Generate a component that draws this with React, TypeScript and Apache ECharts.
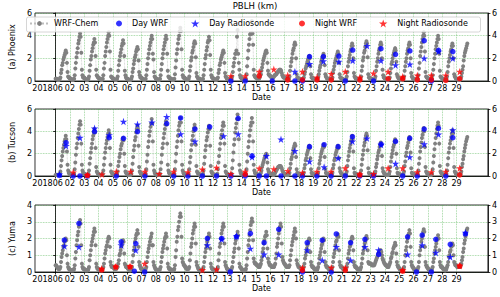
import React, { useEffect, useRef } from 'react';
import * as echarts from 'echarts';

const FONT = 'DejaVu Sans';

// tick labels (one per day, June 1 .. June 29)
const dayLabels = ['201806', '02', '03', '04', '05', '06', '07', '08', '09', '10', '11', '12', '13', '14', '15', '16', '17', '18', '19', '20', '21', '22', '23', '24', '25', '26', '27', '28', '29'];
const tickDays = [0, 1, 2, 3, 4, 5, 6, 7, 8, 9, 10, 11, 12, 13, 14, 15, 16, 17, 18, 19, 20, 21, 22, 23, 24, 25, 26, 27, 28];

const siteNames = ['(a) Phoenix', '(b) Tucson', '(c) Yuma'];
const yMax = [6, 6, 4];
const yStep = [2, 2, 1];

// WRF-Chem hourly PBLH (km), one row per day, hours 0..23
const phoenixWRF: number[][] = [
  [0.2, 0.2, 0.2, 0.1, 0.1, 0.1, 0.1, 0.2, 0.3, 0.7, 1.0, 1.4, 1.6, 1.9, 2.1, 2.3, 2.5, 2.7, 2.5, 1.6, 0.8, 0.4, 0.3, 0.3],
  [0.2, 0.2, 0.2, 0.1, 0.1, 0.1, 0.1, 0.2, 0.5, 1.1, 1.6, 2.1, 2.5, 2.9, 3.3, 3.6, 3.9, 4.2, 3.9, 2.5, 1.0, 0.5, 0.3, 0.3],
  [0.3, 0.2, 0.2, 0.1, 0.1, 0.1, 0.1, 0.2, 0.4, 0.9, 1.4, 1.9, 2.2, 2.6, 2.9, 3.2, 3.4, 3.7, 3.4, 2.2, 1.0, 0.5, 0.4, 0.3],
  [0.3, 0.2, 0.2, 0.2, 0.1, 0.1, 0.1, 0.2, 0.5, 1.1, 1.6, 2.2, 2.6, 3.0, 3.4, 3.7, 4.0, 4.3, 4.0, 2.6, 1.0, 0.4, 0.3, 0.3],
  [0.2, 0.2, 0.2, 0.1, 0.1, 0.1, 0.1, 0.2, 0.4, 0.9, 1.4, 1.8, 2.2, 2.5, 2.8, 3.1, 3.3, 3.6, 3.3, 2.2, 0.9, 0.5, 0.3, 0.2],
  [0.2, 0.2, 0.1, 0.1, 0.1, 0.1, 0.1, 0.2, 0.4, 0.8, 1.1, 1.5, 1.8, 2.1, 2.3, 2.6, 2.8, 3.0, 2.8, 1.8, 0.8, 0.5, 0.3, 0.3],
  [0.3, 0.2, 0.2, 0.1, 0.1, 0.1, 0.1, 0.2, 0.5, 1.0, 1.5, 2.0, 2.4, 2.8, 3.1, 3.4, 3.7, 4.0, 3.7, 2.4, 1.9, 0.8, 0.4, 0.3],
  [0.2, 0.2, 0.2, 0.1, 0.1, 0.1, 0.1, 0.2, 0.5, 1.0, 1.5, 2.0, 2.4, 2.8, 3.1, 3.4, 3.7, 4.0, 3.7, 2.4, 0.9, 0.4, 0.3, 0.3],
  [0.2, 0.2, 0.2, 0.1, 0.1, 0.1, 0.1, 0.2, 0.6, 1.2, 1.8, 2.4, 2.8, 3.3, 3.7, 4.0, 4.4, 4.7, 4.4, 2.8, 1.0, 0.5, 0.3, 0.3],
  [0.3, 0.2, 0.2, 0.1, 0.1, 0.1, 0.1, 0.2, 0.4, 0.9, 1.3, 1.8, 2.1, 2.5, 2.7, 3.0, 3.3, 3.5, 3.3, 2.1, 0.7, 0.4, 0.3, 0.2],
  [0.2, 0.2, 0.2, 0.1, 0.1, 0.1, 0.1, 0.2, 0.5, 1.0, 1.5, 2.0, 2.3, 2.7, 3.0, 3.4, 3.6, 3.9, 3.6, 2.3, 1.0, 0.5, 0.3, 0.3],
  [0.2, 0.2, 0.2, 0.1, 0.1, 0.1, 0.1, 0.2, 0.3, 0.7, 1.0, 1.4, 1.6, 1.9, 2.1, 2.3, 2.5, 2.7, 2.5, 1.6, 0.7, 0.4, 0.3, 0.2],
  [0.2, 0.2, 0.1, 0.1, 0.1, 0.1, 0.1, 0.2, 0.4, 0.8, 1.3, 1.6, 2.0, 2.4, 2.4, 2.7, 3.9, 4.5, 2.4, 1.6, 1.0, 0.5, 0.3, 0.3],
  [0.2, 0.2, 0.1, 0.1, 0.1, 0.1, 0.1, 0.2, 0.6, 1.3, 2.0, 2.7, 3.2, 3.7, 4.1, 4.2, 4.2, 5.3, 4.2, 3.2, 1.0, 0.5, 0.4, 0.3],
  [0.3, 0.3, 0.2, 0.2, 0.2, 0.2, 0.3, 0.5, 0.6, 0.9, 1.2, 1.5, 1.8, 2.0, 2.2, 2.4, 2.6, 2.7, 2.5, 1.6, 0.9, 0.6, 0.5, 0.5],
  [0.4, 0.4, 0.3, 0.3, 0.3, 0.3, 0.4, 0.5, 0.5, 0.6, 0.6, 0.7, 0.8, 0.8, 0.9, 1.0, 1.0, 1.0, 0.9, 0.7, 0.5, 0.4, 0.3, 0.3],
  [0.3, 0.2, 0.2, 0.2, 0.1, 0.1, 0.1, 0.2, 0.4, 0.9, 1.3, 1.7, 2.0, 2.4, 2.7, 2.9, 3.2, 3.4, 3.2, 2.0, 0.6, 0.3, 0.3, 0.2],
  [0.2, 0.2, 0.2, 0.1, 0.1, 0.1, 0.1, 0.2, 0.3, 0.6, 0.8, 1.1, 1.3, 1.5, 1.7, 1.9, 2.0, 2.2, 2.0, 1.3, 0.6, 0.3, 0.3, 0.2],
  [0.2, 0.2, 0.1, 0.1, 0.1, 0.1, 0.1, 0.2, 0.3, 0.6, 0.9, 1.2, 1.4, 1.7, 1.9, 2.1, 2.2, 2.4, 2.2, 1.4, 0.6, 0.4, 0.3, 0.2],
  [0.2, 0.2, 0.2, 0.1, 0.1, 0.1, 0.1, 0.2, 0.3, 0.7, 1.0, 1.3, 1.6, 1.8, 2.0, 2.2, 2.4, 2.6, 2.4, 1.6, 0.6, 0.3, 0.3, 0.2],
  [0.2, 0.2, 0.1, 0.1, 0.1, 0.1, 0.1, 0.2, 0.4, 0.8, 1.3, 1.7, 2.0, 2.3, 2.6, 2.8, 3.1, 3.3, 3.1, 2.0, 0.7, 0.4, 0.3, 0.2],
  [0.2, 0.2, 0.1, 0.1, 0.1, 0.1, 0.1, 0.2, 0.4, 0.9, 1.3, 1.8, 2.1, 2.5, 2.7, 3.0, 3.3, 3.5, 3.3, 2.1, 0.6, 0.3, 0.3, 0.2],
  [0.2, 0.2, 0.2, 0.1, 0.1, 0.1, 0.1, 0.2, 0.4, 0.9, 1.3, 1.7, 2.0, 2.4, 2.7, 2.9, 3.2, 3.4, 3.2, 2.0, 1.0, 0.5, 0.3, 0.3],
  [0.2, 0.2, 0.2, 0.1, 0.1, 0.1, 0.1, 0.2, 0.3, 0.7, 1.1, 1.5, 1.7, 2.0, 2.3, 2.5, 2.7, 2.9, 2.7, 1.7, 0.6, 0.4, 0.3, 0.2],
  [0.2, 0.2, 0.1, 0.1, 0.1, 0.1, 0.1, 0.2, 0.4, 0.9, 1.3, 1.7, 2.0, 2.4, 2.7, 2.9, 3.2, 3.4, 3.2, 2.0, 0.7, 0.4, 0.3, 0.2],
  [0.2, 0.2, 0.1, 0.1, 0.1, 0.1, 0.1, 0.2, 0.5, 1.1, 1.6, 2.2, 2.6, 3.0, 3.4, 3.7, 4.0, 4.3, 4.0, 2.6, 0.8, 0.4, 0.3, 0.3],
  [0.2, 0.2, 0.2, 0.1, 0.1, 0.1, 0.1, 0.2, 0.5, 1.0, 1.5, 2.0, 2.4, 2.8, 3.1, 3.4, 3.7, 4.0, 3.7, 2.4, 0.9, 0.4, 0.3, 0.3],
  [0.2, 0.2, 0.1, 0.1, 0.1, 0.1, 0.1, 0.2, 0.4, 0.8, 1.3, 1.7, 2.0, 2.3, 2.6, 2.8, 3.1, 3.3, 3.1, 2.0, 0.6, 0.4, 0.3, 0.2],
  [0.2, 0.2, 0.1, 0.1, 0.1, 0.1, 0.1, 0.2, 0.4, 0.7, 1.0, 1.3, 1.8, 2.2, 2.5, 2.7, 2.9, 3.1, 3.3],
];

const tucsonWRF: number[][] = [
  [0.1, 0.1, 0.1, 0.1, 0.1, 0.1, 0.1, 0.2, 0.4, 0.9, 1.4, 1.8, 2.2, 2.5, 2.8, 3.1, 3.3, 3.6, 3.3, 2.2, 1.0, 0.5, 0.3, 0.2],
  [0.2, 0.1, 0.1, 0.1, 0.1, 0.1, 0.1, 0.2, 0.6, 1.2, 1.9, 2.5, 2.9, 3.4, 3.8, 4.2, 4.6, 4.9, 4.6, 2.9, 1.0, 0.5, 0.3, 0.2],
  [0.2, 0.2, 0.1, 0.1, 0.1, 0.1, 0.1, 0.2, 0.5, 1.1, 1.6, 2.1, 2.5, 2.9, 3.3, 3.6, 3.9, 4.2, 3.9, 2.5, 0.8, 0.4, 0.3, 0.2],
  [0.2, 0.1, 0.1, 0.1, 0.1, 0.1, 0.1, 0.2, 0.5, 1.0, 1.6, 2.1, 2.5, 2.9, 3.2, 3.5, 3.8, 4.1, 3.8, 2.5, 1.0, 0.4, 0.3, 0.2],
  [0.2, 0.1, 0.1, 0.1, 0.1, 0.1, 0.1, 0.2, 0.4, 0.9, 1.3, 1.7, 2.0, 2.4, 2.7, 2.9, 3.2, 3.4, 3.2, 2.0, 0.9, 0.4, 0.3, 0.2],
  [0.2, 0.1, 0.1, 0.1, 0.1, 0.1, 0.1, 0.2, 0.5, 1.1, 1.7, 2.3, 2.7, 3.2, 3.5, 3.9, 4.2, 4.5, 4.2, 2.7, 0.8, 0.4, 0.3, 0.2],
  [0.2, 0.1, 0.1, 0.1, 0.1, 0.1, 0.1, 0.2, 0.6, 1.3, 1.9, 2.6, 3.1, 3.6, 4.0, 4.4, 4.7, 5.1, 4.7, 3.1, 1.0, 0.5, 0.3, 0.2],
  [0.2, 0.1, 0.1, 0.1, 0.1, 0.1, 0.1, 0.2, 0.6, 1.2, 1.9, 2.5, 2.9, 3.4, 3.8, 4.2, 4.6, 4.9, 4.6, 2.9, 1.0, 0.5, 0.3, 0.2],
  [0.2, 0.1, 0.1, 0.1, 0.1, 0.1, 0.1, 0.2, 0.6, 1.3, 2.0, 2.6, 3.1, 3.6, 4.1, 4.5, 4.8, 5.2, 4.8, 3.1, 1.0, 0.5, 0.3, 0.2],
  [0.2, 0.1, 0.1, 0.1, 0.1, 0.1, 0.1, 0.2, 0.6, 1.2, 1.7, 2.3, 2.8, 3.2, 3.6, 4.0, 4.3, 4.6, 4.3, 2.8, 0.9, 0.4, 0.3, 0.2],
  [0.2, 0.1, 0.1, 0.1, 0.1, 0.1, 0.1, 0.2, 0.5, 1.1, 1.7, 2.3, 2.7, 3.2, 3.5, 3.9, 4.2, 4.5, 4.2, 2.7, 0.9, 0.4, 0.3, 0.2],
  [0.2, 0.1, 0.1, 0.1, 0.1, 0.1, 0.1, 0.2, 0.6, 1.2, 1.8, 2.4, 2.9, 3.4, 3.7, 4.1, 4.5, 4.8, 4.5, 2.9, 0.9, 0.4, 0.3, 0.2],
  [0.2, 0.1, 0.1, 0.1, 0.1, 0.1, 0.1, 0.2, 0.7, 1.4, 2.1, 2.8, 3.3, 3.9, 4.3, 4.7, 5.1, 5.5, 5.1, 3.3, 1.0, 0.5, 0.3, 0.2],
  [0.2, 0.1, 0.1, 0.1, 0.1, 0.1, 0.1, 0.2, 0.6, 1.3, 2.0, 2.6, 3.1, 3.6, 4.1, 4.5, 4.8, 5.2, 4.8, 3.1, 1.0, 0.5, 0.3, 0.2],
  [0.2, 0.2, 0.1, 0.1, 0.1, 0.1, 0.1, 0.2, 0.3, 0.5, 0.8, 1.0, 1.2, 1.4, 1.6, 1.7, 1.9, 2.0, 1.9, 1.2, 0.6, 0.4, 0.3, 0.2],
  [0.2, 0.2, 0.2, 0.2, 0.1, 0.1, 0.1, 0.2, 0.3, 0.4, 0.5, 0.6, 0.7, 0.8, 0.8, 0.9, 0.9, 0.9, 0.8, 0.7, 0.5, 0.4, 0.3, 0.2],
  [0.2, 0.1, 0.1, 0.1, 0.1, 0.1, 0.1, 0.2, 0.3, 0.7, 1.1, 1.5, 1.7, 2.0, 2.3, 2.5, 2.7, 2.9, 2.7, 1.7, 0.6, 0.3, 0.2, 0.2],
  [0.2, 0.1, 0.1, 0.1, 0.1, 0.1, 0.1, 0.2, 0.3, 0.7, 1.0, 1.4, 1.6, 1.9, 2.1, 2.3, 2.5, 2.7, 2.5, 1.6, 0.6, 0.3, 0.2, 0.2],
  [0.2, 0.1, 0.1, 0.1, 0.1, 0.1, 0.1, 0.2, 0.3, 0.7, 1.1, 1.4, 1.7, 2.0, 2.2, 2.4, 2.6, 2.8, 2.6, 1.7, 0.6, 0.3, 0.2, 0.2],
  [0.2, 0.1, 0.1, 0.1, 0.1, 0.1, 0.1, 0.2, 0.3, 0.7, 1.0, 1.4, 1.6, 1.9, 2.1, 2.3, 2.5, 2.7, 2.5, 1.6, 0.7, 0.4, 0.3, 0.2],
  [0.2, 0.1, 0.1, 0.1, 0.1, 0.1, 0.1, 0.2, 0.4, 0.9, 1.4, 1.8, 2.2, 2.5, 2.8, 3.1, 3.3, 3.6, 3.3, 2.2, 0.7, 0.3, 0.2, 0.2],
  [0.2, 0.1, 0.1, 0.1, 0.1, 0.1, 0.1, 0.2, 0.5, 1.0, 1.5, 1.9, 2.3, 2.7, 3.0, 3.3, 3.6, 3.8, 3.6, 2.3, 0.7, 0.3, 0.2, 0.2],
  [0.2, 0.1, 0.1, 0.1, 0.1, 0.1, 0.1, 0.2, 0.4, 0.8, 1.1, 1.5, 1.8, 2.1, 2.3, 2.6, 2.8, 3.0, 2.8, 1.8, 0.7, 0.4, 0.3, 0.2],
  [0.2, 0.1, 0.1, 0.1, 0.1, 0.1, 0.1, 0.2, 0.4, 0.8, 1.3, 1.7, 2.0, 2.3, 2.6, 2.8, 3.1, 3.3, 3.1, 2.0, 0.7, 0.3, 0.2, 0.2],
  [0.2, 0.1, 0.1, 0.1, 0.1, 0.1, 0.1, 0.2, 0.4, 0.9, 1.3, 1.8, 2.1, 2.5, 2.7, 3.0, 3.3, 3.5, 3.3, 2.1, 0.7, 0.3, 0.2, 0.2],
  [0.2, 0.1, 0.1, 0.1, 0.1, 0.1, 0.1, 0.2, 0.5, 1.1, 1.6, 2.2, 2.6, 3.0, 3.4, 3.7, 4.0, 4.3, 4.0, 2.6, 0.8, 0.4, 0.3, 0.2],
  [0.2, 0.1, 0.1, 0.1, 0.1, 0.1, 0.1, 0.2, 0.6, 1.2, 1.8, 2.4, 2.9, 3.4, 3.8, 4.2, 4.5, 4.8, 4.5, 2.9, 0.9, 0.4, 0.3, 0.2],
  [0.2, 0.1, 0.1, 0.1, 0.1, 0.1, 0.1, 0.2, 0.5, 1.0, 1.6, 2.1, 2.5, 2.9, 3.2, 3.5, 3.8, 4.1, 3.8, 2.5, 0.8, 0.4, 0.3, 0.2],
  [0.2, 0.1, 0.1, 0.1, 0.1, 0.1, 0.1, 0.2, 0.4, 0.8, 1.1, 1.5, 1.8, 2.2, 2.5, 2.8, 3.1, 3.3, 3.5],
];

const yumaWRF: number[][] = [
  [0.4, 0.4, 0.3, 0.3, 0.2, 0.2, 0.2, 0.2, 0.3, 0.6, 0.9, 1.1, 1.3, 1.5, 1.6, 1.8, 1.9, 2.0, 1.9, 1.0, 0.5, 0.3, 0.2, 0.2],
  [0.1, 0.1, 0.1, 0.1, 0.1, 0.1, 0.1, 0.2, 0.4, 0.8, 1.2, 1.6, 1.9, 2.2, 2.4, 2.7, 2.9, 3.1, 2.9, 1.6, 0.5, 0.3, 0.2, 0.2],
  [0.2, 0.1, 0.1, 0.1, 0.1, 0.1, 0.1, 0.2, 0.3, 0.7, 1.0, 1.3, 1.6, 1.8, 2.0, 2.2, 2.4, 2.6, 2.4, 1.6, 0.5, 0.3, 0.2, 0.2],
  [0.2, 0.1, 0.1, 0.1, 0.1, 0.1, 0.1, 0.2, 0.3, 0.5, 0.8, 1.1, 1.3, 1.5, 1.6, 1.8, 2.0, 2.1, 2.0, 1.5, 0.6, 0.4, 0.3, 0.3],
  [0.3, 0.3, 0.2, 0.2, 0.2, 0.2, 0.2, 0.3, 0.3, 0.5, 0.7, 1.0, 1.1, 1.3, 1.5, 1.6, 1.8, 1.9, 1.8, 1.1, 0.5, 0.4, 0.3, 0.3],
  [0.3, 0.2, 0.2, 0.2, 0.1, 0.1, 0.1, 0.2, 0.3, 0.6, 1.0, 1.3, 1.5, 1.8, 2.0, 2.2, 2.3, 2.5, 2.3, 1.5, 0.6, 0.4, 0.3, 0.2],
  [0.2, 0.2, 0.1, 0.1, 0.1, 0.1, 0.1, 0.2, 0.3, 0.6, 0.9, 1.2, 1.4, 1.6, 1.8, 2.0, 2.1, 2.3, 1.6, 1.6, 0.6, 0.4, 0.3, 0.2],
  [0.2, 0.1, 0.1, 0.1, 0.1, 0.1, 0.1, 0.2, 0.3, 0.6, 0.9, 1.2, 1.4, 1.6, 1.8, 2.0, 2.1, 2.3, 2.1, 1.4, 0.5, 0.3, 0.2, 0.2],
  [0.2, 0.1, 0.1, 0.1, 0.1, 0.1, 0.1, 0.2, 0.4, 0.9, 1.3, 1.8, 2.1, 2.5, 2.7, 3.0, 3.3, 3.5, 3.3, 2.1, 0.8, 0.6, 0.5, 0.4],
  [0.4, 0.3, 0.3, 0.2, 0.2, 0.2, 0.2, 0.2, 0.3, 0.7, 1.1, 1.5, 1.7, 2.0, 2.3, 2.5, 2.7, 2.9, 2.7, 1.7, 0.6, 0.4, 0.3, 0.2],
  [0.2, 0.1, 0.1, 0.1, 0.1, 0.1, 0.1, 0.2, 0.3, 0.6, 0.9, 1.2, 1.4, 1.6, 1.8, 2.0, 2.1, 2.3, 2.1, 1.4, 0.5, 0.3, 0.2, 0.2],
  [0.2, 0.1, 0.1, 0.1, 0.1, 0.1, 0.1, 0.2, 0.3, 0.7, 1.1, 1.5, 1.7, 2.0, 2.3, 2.5, 2.7, 2.9, 2.7, 1.7, 0.6, 0.4, 0.3, 0.2],
  [0.2, 0.1, 0.1, 0.1, 0.1, 0.1, 0.1, 0.2, 0.3, 0.6, 0.9, 1.2, 1.4, 1.7, 1.9, 2.1, 2.2, 2.4, 2.2, 1.4, 0.5, 0.3, 0.3, 0.2],
  [0.2, 0.1, 0.1, 0.1, 0.1, 0.1, 0.1, 0.2, 0.4, 0.8, 1.2, 1.6, 1.9, 2.2, 2.5, 2.8, 3.0, 3.2, 3.0, 1.9, 0.8, 0.6, 0.5, 0.5],
  [0.5, 0.4, 0.4, 0.4, 0.3, 0.3, 0.3, 0.4, 0.5, 0.7, 0.9, 1.2, 1.4, 1.7, 1.9, 2.1, 2.2, 2.4, 2.2, 1.4, 0.8, 0.6, 0.5, 0.4],
  [0.4, 0.4, 0.3, 0.3, 0.3, 0.3, 0.3, 0.4, 0.5, 0.8, 1.1, 1.5, 1.7, 2.0, 2.3, 2.5, 2.7, 2.9, 2.7, 1.7, 0.9, 0.7, 0.6, 0.5],
  [0.5, 0.4, 0.4, 0.3, 0.3, 0.3, 0.3, 0.3, 0.4, 0.7, 1.0, 1.3, 1.6, 1.8, 2.0, 2.2, 2.4, 2.6, 2.4, 2.0, 0.7, 0.5, 0.4, 0.3],
  [0.3, 0.3, 0.2, 0.2, 0.2, 0.2, 0.2, 0.2, 0.3, 0.5, 0.8, 1.0, 1.2, 1.4, 1.6, 1.7, 1.9, 2.0, 1.9, 1.2, 0.6, 0.4, 0.3, 0.3],
  [0.3, 0.2, 0.2, 0.2, 0.1, 0.1, 0.1, 0.2, 0.3, 0.5, 0.8, 1.0, 1.2, 1.4, 1.6, 1.7, 1.9, 2.0, 1.9, 1.2, 0.6, 0.4, 0.3, 0.3],
  [0.3, 0.2, 0.2, 0.2, 0.1, 0.1, 0.1, 0.2, 0.3, 0.6, 0.9, 1.1, 1.3, 1.6, 1.8, 1.9, 2.1, 2.25, 2.1, 1.3, 0.6, 0.4, 0.3, 0.3],
  [0.3, 0.2, 0.2, 0.2, 0.1, 0.1, 0.1, 0.2, 0.3, 0.5, 0.8, 1.1, 1.3, 1.5, 1.6, 1.8, 2.0, 2.1, 2.0, 1.3, 0.6, 0.4, 0.3, 0.3],
  [0.3, 0.2, 0.2, 0.2, 0.1, 0.1, 0.1, 0.2, 0.3, 0.5, 0.8, 1.1, 1.3, 1.5, 1.7, 1.8, 2.0, 2.15, 2.0, 1.3, 0.6, 0.5, 0.5, 0.5],
  [0.5, 0.5, 0.4, 0.4, 0.4, 0.4, 0.4, 0.5, 0.6, 0.7, 0.8, 0.9, 1.0, 1.1, 1.2, 1.2, 1.3, 1.3, 1.2, 1.0, 0.8, 0.7, 0.6, 0.5],
  [0.5, 0.4, 0.4, 0.4, 0.3, 0.3, 0.3, 0.4, 0.5, 0.6, 0.8, 0.9, 1.1, 1.2, 1.4, 1.5, 1.6, 1.75, 1.6, 1.1, 0.6, 0.4, 0.3, 0.3],
  [0.2, 0.2, 0.1, 0.1, 0.1, 0.1, 0.1, 0.2, 0.3, 0.6, 1.0, 1.3, 1.5, 1.8, 2.0, 2.2, 2.3, 2.5, 2.3, 1.5, 0.6, 0.4, 0.3, 0.3],
  [0.2, 0.2, 0.1, 0.1, 0.1, 0.1, 0.1, 0.2, 0.3, 0.6, 1.0, 1.3, 1.5, 1.8, 2.0, 2.2, 2.4, 2.55, 2.4, 1.5, 0.6, 0.4, 0.3, 0.3],
  [0.2, 0.2, 0.1, 0.1, 0.1, 0.1, 0.1, 0.2, 0.3, 0.6, 0.8, 1.1, 1.3, 1.5, 1.7, 1.9, 2.0, 2.2, 2.0, 1.3, 0.6, 0.4, 0.3, 0.3],
  [0.3, 0.2, 0.2, 0.2, 0.1, 0.1, 0.1, 0.2, 0.3, 0.4, 0.6, 0.9, 1.0, 1.2, 1.3, 1.5, 1.6, 1.7, 1.6, 1.0, 0.6, 0.5, 0.4, 0.4],
  [0.4, 0.3, 0.3, 0.3, 0.3, 0.3, 0.3, 0.4, 0.5, 0.7, 0.9, 1.2, 1.4, 1.7, 1.9, 2.1, 2.3, 2.5, 2.6],
];

// observation markers: [day offset from 2018-06-01 00:00, PBLH km]
const phoenixDayWRF = [[12.24, 0], [13.24, 0], [15.13, 0], [16.71, 0], [17.24, 0], [17.73, 2.15], [18.7, 2.15], [19.78, 2.2], [20.23, 0], [20.75, 2.73], [22.2, 0], [22.72, 2.85], [23.74, 2.35], [24.74, 2.65], [25.74, 3.56], [26.24, 0], [26.74, 2.7], [27.74, 2.6]];
const phoenixDayRS = [[16.71, 0.82], [17.73, 1.5], [18.7, 1.75], [19.78, 1.7], [20.75, 1.8], [21.75, 3.1], [22.72, 1.8], [23.74, 1.4], [24.74, 1.47], [25.74, 2.0], [26.74, 2.6], [27.74, 2.0]];
const phoenixNightWRF = [[14.22, 0.44], [16.21, 0.1], [17.24, 0.1], [18.26, 0.1], [19.25, 0.1], [21.25, 0.1], [23.22, 0.2], [24.24, 0.2], [25.26, 0.1], [26.24, 0.1], [27.25, 0.05], [28.22, 0.2]];
const phoenixNightRS = [[12.24, 0.44], [13.24, 0.44], [14.22, 0.82], [15.24, 1.03], [16.21, 0.5], [17.24, 0.82], [18.26, 0.33], [19.25, 0.62], [20.23, 0.82], [21.25, 0.33], [22.2, 0.68], [23.22, 0.82], [24.24, 0.38], [25.26, 0.5], [26.24, 0.5], [27.25, 0.5], [28.22, 0.82]];

const tucsonDayWRF = [[0.27, 0.05], [0.73, 2.98], [1.23, 0], [1.7, 0], [2.22, 0], [2.72, 3.98], [3.74, 3.43], [4.24, 0], [4.74, 3.37], [5.72, 3.98], [6.24, 0], [7.76, 4.7], [8.25, 0], [8.73, 5.2], [9.24, 0], [9.73, 4.2], [10.25, 0], [10.76, 4.4], [11.24, 0], [12.24, 0], [12.75, 5.16], [13.24, 0], [13.72, 1.8], [14.22, 0], [14.72, 0], [15.74, 0], [16.71, 0], [17.24, 0], [17.73, 2.63], [18.25, 0], [18.75, 2.8], [19.24, 0], [19.73, 2.63], [20.23, 0], [20.73, 3.52], [21.24, 0], [22.2, 0], [22.73, 2.85], [23.74, 3.1], [24.24, 0], [24.73, 3.37], [25.26, 0], [25.74, 4.2], [26.74, 4.27], [27.25, 0], [27.74, 3.43]];
const tucsonDayRS = [[0.27, 0.15], [0.73, 2.7], [1.7, 3.43], [2.72, 4.27], [3.74, 3.67], [4.74, 4.87], [5.72, 4.63], [6.73, 4.8], [7.76, 5.3], [8.73, 3.75], [9.73, 3.1], [11.73, 3.58], [12.75, 3.75], [13.72, 1.7], [14.72, 1.8], [15.74, 3.28], [16.71, 2.24], [17.73, 1.3], [18.75, 0.8], [19.73, 1.6], [20.73, 3.1], [21.74, 3.37], [22.73, 2.8], [23.74, 1.1], [24.73, 1.7], [25.74, 2.85], [26.74, 3.73], [27.74, 4.1]];
const tucsonNightWRF = [[2.22, 0.05], [13.24, 0.15], [21.24, 0.1], [28.22, 0.1]];
const tucsonNightRS = [[1.23, 0.33], [2.22, 0.1], [3.24, 0.15], [4.24, 0.4], [5.24, 0.4], [6.24, 0.4], [7.24, 0.2], [8.25, 0.4], [9.24, 0.35], [10.25, 0.6], [11.24, 0.75], [12.24, 0.2], [13.24, 0.4], [14.22, 0.68], [15.24, 0.62], [16.22, 0.45], [17.24, 0.3], [18.25, 0.4], [19.24, 0.4], [20.23, 0.7], [21.24, 0.15], [22.2, 0.2], [23.22, 0.7], [24.24, 0.7], [25.26, 0.35], [26.24, 0.35], [27.25, 0.4], [28.22, 0.7]];

const yumaDayWRF = [[0.61, 1.91], [1.63, 2.9], [4.58, 1.8], [5.5, 0.05], [5.6, 1.7], [6.22, 0], [10.6, 2.0], [11.6, 2.0], [12.2, 0], [12.63, 2.1], [13.6, 2.3], [14.56, 1.75], [15.58, 2.55], [17.24, 0], [17.57, 1.75], [18.62, 1.9], [19.25, 0], [19.6, 2.27], [20.6, 1.75], [21.6, 1.95], [22.56, 1.05], [24.58, 2.1], [25.2, 0], [25.6, 2.2], [26.24, 0], [26.55, 1.95], [27.56, 1.65], [28.62, 2.27]];
const yumaDayRS = [[0.61, 1.55], [1.63, 1.5], [4.58, 1.6], [5.6, 1.3], [10.6, 1.6], [11.6, 1.95], [12.63, 2.15], [13.6, 1.4], [14.56, 1.05], [15.58, 1.05], [17.57, 1.3], [18.62, 0.7], [19.6, 1.5], [20.6, 0.7], [21.6, 1.5], [22.56, 1.3], [24.58, 1.05], [25.6, 1.6], [26.55, 1.15], [27.56, 0.9], [28.62, 2.35]];
const yumaNightWRF = [[3.22, 0.12], [4.2, 0.3], [5.2, 0.3], [17.24, 0.1], [20.23, 0.1], [24.24, 0.05], [28.22, 0.35]];
const yumaNightRS = [[3.22, 0.2], [4.2, 0.32], [5.2, 0.35], [6.22, 0.5], [10.25, 0.12], [11.24, 0.15], [17.24, 0.26], [19.25, 0.26], [20.23, 0.26], [24.24, 0.12], [28.22, 0.38]];

const wrfRows = [phoenixWRF, tucsonWRF, yumaWRF];
const dayWRF = [phoenixDayWRF, tucsonDayWRF, yumaDayWRF];
const dayRS = [phoenixDayRS, tucsonDayRS, yumaDayRS];
const nightWRF = [phoenixNightWRF, tucsonNightWRF, yumaNightWRF];
const nightRS = [phoenixNightRS, tucsonNightRS, yumaNightRS];

const STAR = 'path://M0,-10L2.245,-3.09L9.51,-3.09L3.633,1.18L5.88,8.09L0,3.82L-5.88,8.09L-3.633,1.18L-9.51,-3.09L-2.245,-3.09Z';

function hourly(rows: number[][]) {
  const pts: number[][] = [];
  rows.forEach((row, d) => row.forEach((v, h) => pts.push([d + h / 24, v])));
  return pts;
}

const GRID_TOPS = [13, 109, 205];
const GRID_H = [68, 67, 67];
const GREEN = 'rgba(60,170,60,0.6)';

function buildOption() {
  const grid: any[] = [];
  const xAxis: any[] = [];
  const yAxis: any[] = [];
  const series: any[] = [];
  const txt = { fontFamily: FONT, fontSize: 8, color: '#000' };

  for (let i = 0; i < 3; i++) {
    grid.push({ left: 23, width: 465, top: GRID_TOPS[i], height: GRID_H[i], show: true, borderColor: '#000', borderWidth: 0.8, backgroundColor: 'transparent' });
    xAxis.push({
      gridIndex: i, type: 'value', min: -1.44, max: 30.19,
      name: 'Date', nameLocation: 'middle', nameGap: 11, nameTextStyle: { ...txt },
      axisLine: { show: true, lineStyle: { color: '#000', width: 0.8 } },
      axisTick: { show: true, customValues: tickDays, length: 2.5, lineStyle: { color: '#000', width: 0.8 } },
      axisLabel: {
        customValues: tickDays, ...txt, margin: 3.5,
        formatter: (v: number) => { const k = Math.round(v); return k === 0 ? '{a|' + dayLabels[0] + '}' : dayLabels[k]; },
        rich: { a: { ...txt, padding: [0, 16, 0, 0] } },
      },
      splitLine: { show: true, lineStyle: { color: GREEN, type: 'dotted', width: 0.8 } },
    });
    yAxis.push({
      gridIndex: i, type: 'value', min: 0, max: yMax[i], interval: yStep[i], position: 'left',
      name: siteNames[i], nameLocation: 'middle', nameGap: 9, nameTextStyle: { ...txt },
      axisLine: { show: true, lineStyle: { color: '#000', width: 0.8 } },
      axisTick: { show: true, length: 2.5, lineStyle: { color: '#000', width: 0.8 } },
      axisLabel: { ...txt, margin: 3 },
      splitLine: { show: true, lineStyle: { color: GREEN, type: 'dotted', width: 0.8 } },
    });
    yAxis.push({
      gridIndex: i, type: 'value', min: 0, max: yMax[i], interval: yStep[i], position: 'right',
      axisLine: { show: true, lineStyle: { color: '#000', width: 0.8 } },
      axisTick: { show: true, length: 2.5, lineStyle: { color: '#000', width: 0.8 } },
      axisLabel: { ...txt, margin: 4 },
      splitLine: { show: false },
    });
    series.push({
      name: 'WRF-Chem', type: 'line', xAxisIndex: i, yAxisIndex: 2 * i,
      data: hourly(wrfRows[i]), symbol: 'circle', symbolSize: 4, showSymbol: true,
      itemStyle: { color: '#808080' },
      lineStyle: { color: '#bdbdbd', width: 0.7, type: 'dotted' },
      z: 2,
    });
    series.push({ name: 'Day WRF', type: 'scatter', xAxisIndex: i, yAxisIndex: 2 * i, data: dayWRF[i], symbol: 'circle', symbolSize: 5.5, itemStyle: { color: '#0000ff' }, z: 3 });
    series.push({ name: 'Day Radiosonde', type: 'scatter', xAxisIndex: i, yAxisIndex: 2 * i, data: dayRS[i], symbol: STAR, symbolSize: 7.5, itemStyle: { color: '#0000ff' }, z: 3 });
    series.push({ name: 'Night WRF', type: 'scatter', xAxisIndex: i, yAxisIndex: 2 * i, data: nightWRF[i], symbol: 'circle', symbolSize: 5.5, itemStyle: { color: '#ff0000' }, z: 3 });
    series.push({ name: 'Night Radiosonde', type: 'scatter', xAxisIndex: i, yAxisIndex: 2 * i, data: nightRS[i], symbol: STAR, symbolSize: 7.5, itemStyle: { color: '#ff0000' }, z: 3 });
  }

  const legendSpec = [
    { name: 'WRF-Chem', left: 29, w: 19, h: 6 },
    { name: 'Day WRF', left: 116, w: 16, h: 6 },
    { name: 'Day Radiosonde', left: 191, w: 18, h: 8 },
    { name: 'Night WRF', left: 299, w: 16, h: 6 },
    { name: 'Night Radiosonde', left: 379, w: 18, h: 8 },
  ];
  const legend = legendSpec.map((l) => ({
    data: [l.name], left: l.left, top: 19.5, itemWidth: l.w, itemHeight: l.h, padding: 0,
    selectedMode: false, textStyle: { ...txt }, z: 20, orient: 'horizontal',
  }));

  return {
    animation: false,
    backgroundColor: '#ffffff',
    title: { text: 'PBLH (km)', left: 255, top: 1, padding: 0, textAlign: 'center', textStyle: { fontFamily: FONT, fontSize: 8.5, fontWeight: 'normal', color: '#000' } },
    grid, xAxis, yAxis, series, legend,
    graphic: [
      { type: 'rect', z: 10, shape: { x: 26.5, y: 17, width: 454, height: 15, r: 2 }, style: { fill: 'rgba(255,255,255,0.8)', stroke: '#cccccc', lineWidth: 0.8 } },
    ],
  };
}

export default function App() {
  const ref = useRef<HTMLDivElement>(null);
  useEffect(() => {
    document.body.style.margin = '0';
    const chart = echarts.init(ref.current!, undefined, { renderer: 'svg' });
    chart.setOption(buildOption() as any);
    return () => chart.dispose();
  }, []);
  return <div ref={ref} style={{ position: 'fixed', left: 0, top: 0, width: 500, height: 297 }} />;
}
